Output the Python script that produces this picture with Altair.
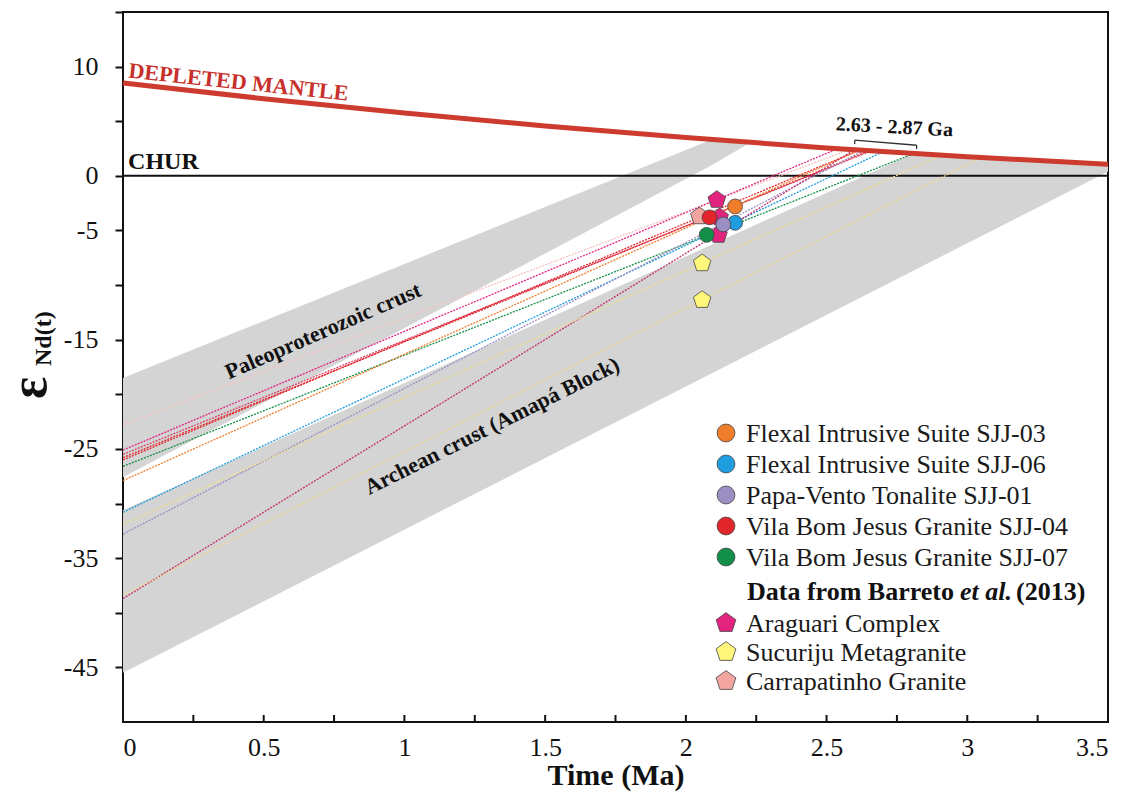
import altair as alt
import pandas as pd

# ---------------- data ----------------
# depleted mantle evolution curve
dm_t = [0.0, 0.5, 1.0, 1.5, 2.0, 2.5, 3.0, 3.5]
dm_eps = [8.5, 7.06, 5.75, 4.56, 3.5, 2.56, 1.75, 1.06]

# Paleoproterozoic crust field
paleo_t = [0.0, 2.09, 2.23]
paleo_top = [-18.5, 3.3, 3.05]
paleo_bot = [-27.6, 0.95, 3.05]

# Archean crust (Amapa Block) field
arch_t = [0.0, 2.81, 3.0, 3.25, 3.5]
arch_top = [-30.6, 2.04, 1.75, 1.39, 1.06]
arch_bot = [-45.5, -8.66, -6.17, -2.9, 0.4]

groups = ["Flexal Intrusive Suite SJJ-03", "Flexal Intrusive Suite SJJ-06",
          "Papa-Vento Tonalite SJJ-01", "Vila Bom Jesus Granite SJJ-04",
          "Vila Bom Jesus Granite SJJ-07", "Araguari Complex",
          "Sucuriju Metagranite", "Carrapatinho Granite"]
group_colors = ["#F07D2C", "#1F9DDF", "#9B8EC3", "#E3262B", "#12904A",
                "#E2247F", "#FFF67C", "#F3A59F"]
group_shape = ["circle"] * 5 + ["pentagon"] * 3

# sample points
pt_group = ["Sucuriju Metagranite", "Sucuriju Metagranite",
            "Carrapatinho Granite", "Araguari Complex", "Araguari Complex",
            "Araguari Complex",
            "Flexal Intrusive Suite SJJ-03", "Flexal Intrusive Suite SJJ-06",
            "Papa-Vento Tonalite SJJ-01", "Vila Bom Jesus Granite SJJ-04",
            "Vila Bom Jesus Granite SJJ-07"]
pt_t = [2.058, 2.058, 2.048, 2.11, 2.12, 2.116, 2.175, 2.175, 2.133, 2.084, 2.074]
pt_eps = [-8.0, -11.36, -3.7, -2.2, -3.8, -5.4, -2.8, -4.3, -4.45, -3.8, -5.4]

# model-age evolution lines: start at t=0, end on depleted mantle
ln_color = ["#F5C4C1", "#E2247F", "#D8436B", "#E3262B", "#E3262B", "#12904A",
            "#F07D2C", "#1F9DDF", "#9B8EC3", "#C2306A", "#EEDF92", "#EEDA92"]
ln_eps0 = [-22.8, -25.1, -25.5, -25.8, -26.0, -26.6, -27.9, -30.8, -32.8, -38.7, -31.9, -38.4]
ln_tdm = [2.58, 2.54, 2.66, 2.65, 2.62, 2.81, 2.62, 2.70, 2.63, 2.60, 2.91, 3.05]
ln_eps_end = [2.4, 2.5, 2.3, 2.3, 2.4, 2.04, 2.4, 2.2, 2.3, 2.4, 1.9, 1.7]

x_ticks = [0, 0.25, 0.5, 0.75, 1.0, 1.25, 1.5, 1.75, 2.0, 2.25, 2.5, 2.75, 3.0, 3.25, 3.5]
x_labels = [0, 0.5, 1.0, 1.5, 2.0, 2.5, 3.0, 3.5]
y_ticks = [-45, -40, -35, -30, -25, -20, -15, -10, -5, 0, 5, 10, 15]
y_labels = [10, 0, -5, -15, -25, -35, -45]

# range bracket 2.63 - 2.87 Ga
br_t = [2.60, 2.82]
br_eps = [3.27, 2.80]

# ---------------- chart ----------------
FONT = "Liberation Serif"
W, H = 985, 710
X = alt.Scale(domain=[0, 3.5], nice=False, zero=False)
Y = alt.Scale(domain=[-50, 15], nice=False, zero=False)

x_axis = alt.Axis(values=x_labels, format="~g", ticks=False, domain=False, grid=False,
                  labelFont=FONT, labelFontSize=26, labelColor="#111", labelPadding=12,
                  title="Time (Ma)", titleFont=FONT, titleFontSize=30, titleFontWeight="bold",
                  titleColor="#111", titlePadding=0)
y_label_expr = ("indexof(" + str(y_labels) + ", datum.value) >= 0 ? "
                "(datum.value < 0 ? '-' + toString(abs(datum.value)) : toString(datum.value)) : ''")
y_axis = alt.Axis(values=y_ticks, domain=False, grid=False, labelExpr=y_label_expr,
                  labelFont=FONT, labelFontSize=26, labelColor="#111", labelPadding=17,
                  tickSize=8, tickWidth=2, tickColor="#111", title=None)

paleo_df = pd.DataFrame({"t": paleo_t, "top": paleo_top, "bot": paleo_bot})
arch_df = pd.DataFrame({"t": arch_t, "top": arch_top, "bot": arch_bot})

paleo = alt.Chart(paleo_df).mark_area(color="#D4D4D4").encode(
    x=alt.X("t:Q", scale=X, axis=x_axis),
    y=alt.Y("bot:Q", scale=Y, axis=y_axis),
    y2="top:Q")
arch = alt.Chart(arch_df).mark_area(color="#D4D4D4").encode(
    x=alt.X("t:Q", scale=X), y=alt.Y("bot:Q", scale=Y), y2="top:Q")

one = pd.DataFrame({"a": [0]})
chur = alt.Chart(one).mark_rule(color="#111", strokeWidth=2).encode(y=alt.datum(0))

rows = []
for i in range(len(ln_color)):
    rows.append({"id": i, "t": 0.0, "eps": ln_eps0[i], "c": ln_color[i]})
    rows.append({"id": i, "t": ln_tdm[i], "eps": ln_eps_end[i], "c": ln_color[i]})
lines = alt.Chart(pd.DataFrame(rows)).mark_line(strokeWidth=1.3, strokeDash=[2, 1.2]).encode(
    x="t:Q", y="eps:Q", detail="id:N", color=alt.Color("c:N", scale=None))

dm_df = pd.DataFrame({"t": dm_t, "eps": dm_eps})
dm = alt.Chart(dm_df).mark_line(color="#CD3A2E", strokeWidth=5, interpolate="monotone").encode(
    x="t:Q", y="eps:Q")

PENT = "M0,-1L0.951,-0.309L0.588,0.809L-0.588,0.809L-0.951,-0.309Z"
color_scale = alt.Scale(domain=groups, range=group_colors)
pts = pd.DataFrame({"g": pt_group, "t": pt_t, "eps": pt_eps})
pts["shape"] = [group_shape[groups.index(g)] for g in pt_group]
pts["order"] = range(len(pts))
pent_pts = alt.Chart(pts).transform_filter("datum.shape == 'pentagon'").mark_point(
    shape=PENT, filled=True, size=340, stroke="#444", strokeWidth=0.8, opacity=1).encode(
    x="t:Q", y="eps:Q", fill=alt.Fill("g:N", scale=color_scale, legend=None), order="order:Q")
circ_pts = alt.Chart(pts).transform_filter("datum.shape == 'circle'").mark_point(
    shape="circle", filled=True, size=220, stroke="#444", strokeWidth=0.8, opacity=1).encode(
    x="t:Q", y="eps:Q", fill=alt.Fill("g:N", scale=color_scale, legend=None), order="order:Q")

def text_at(t, eps, txt, size, angle=0, color="#111", align="left", baseline="alphabetic",
            weight="bold", style="normal"):
    return alt.Chart(one).mark_text(text=txt, font=FONT, fontSize=size, fontWeight=weight,
                                    fontStyle=style, angle=angle, color=color, align=align,
                                    baseline=baseline).encode(x=alt.datum(t), y=alt.datum(eps))

def text_px(px, py, txt, size, angle=0, color="#111", align="left", baseline="middle",
            weight="normal", style="normal"):
    return alt.Chart(one).mark_text(text=txt, font=FONT, fontSize=size, fontWeight=weight,
                                    fontStyle=style, angle=angle, color=color, align=align,
                                    baseline=baseline).encode(x=alt.value(px - 123), y=alt.value(py - 12))

labels = [
    text_at(0.018, 9.0, "DEPLETED MANTLE", 22, angle=6, color="#C8302B"),
    text_at(0.018, 0.64, "CHUR", 24),
    text_at(2.74, 3.9, "2.63 - 2.87 Ga", 20, angle=3, align="center"),
    text_at(0.711, -14.2, "Paleoproterozoic crust", 22, angle=336.5, align="center", baseline="middle"),
    text_at(1.311, -22.9, "Archean crust (Amapá Block)", 22, angle=333.5, align="center", baseline="middle"),
]

br_df = pd.DataFrame({"t": br_t, "eps": br_eps})
bracket = alt.Chart(br_df).mark_line(color="#333", strokeWidth=1.3).encode(x="t:Q", y="eps:Q")
br_ticks = alt.Chart(br_df).transform_calculate(e2="datum.eps - 0.35").mark_rule(
    color="#333", strokeWidth=1.3).encode(x="t:Q", y="eps:Q", y2="e2:Q")

xt = alt.Chart(pd.DataFrame({"t": x_ticks})).mark_rule(color="#111", strokeWidth=2).encode(
    x="t:Q", y=alt.value(H), y2=alt.value(H - 7))

# legend (manual, to reproduce mixed symbols and header)
legend_layers = []
row_px = [433 + 31 * i for i in range(5)] + [623 + 29 * j for j in range(3)]
for i, g in enumerate(groups):
    py = row_px[i]
    shp = "circle" if group_shape[i] == "circle" else PENT
    sz = 320 if group_shape[i] == "circle" else 430
    legend_layers.append(alt.Chart(one).mark_point(
        shape=shp, filled=True, size=sz, fill=group_colors[i], stroke="#444", strokeWidth=0.8,
        opacity=1).encode(x=alt.value(726 - 123), y=alt.value(py - 12)))
    legend_layers.append(text_px(746, py + 1, g, 26, color="#1a1a1a"))
legend_layers.append(text_px(747, 592, "Data from Barreto", 26, weight="bold"))
legend_layers.append(text_px(960, 592, "et al.", 26, weight="bold", style="italic"))
legend_layers.append(text_px(1016, 592, "(2013)", 26, weight="bold"))

# y axis title: epsilon Nd(t)
ytitle = [
    text_px(30, 388, "ε", 52, angle=270, align="center", weight="bold"),
    text_px(44, 366, "Nd(t)", 24, angle=270, align="left", weight="bold"),
]

chart = alt.layer(
    paleo, arch, chur, lines, dm, bracket, br_ticks, pent_pts, circ_pts, xt,
    *labels, *legend_layers, *ytitle
).properties(
    width=W, height=H,
    padding={"left": 123, "top": 12, "right": 21, "bottom": 72},
    autosize=alt.AutoSizeParams(type="none"),
    background="white",
).configure_view(stroke="#111", strokeWidth=2)

chart.save("out.html", embed_options={"renderer": "svg", "actions": False})
